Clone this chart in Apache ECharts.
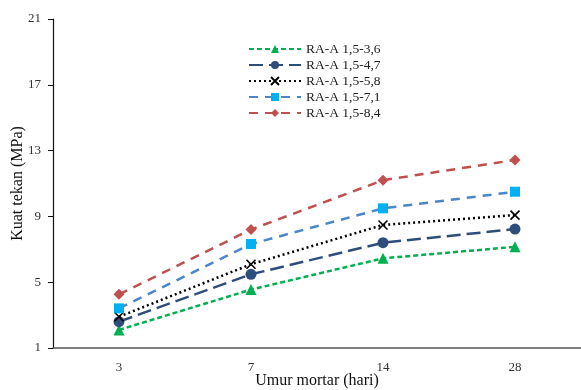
<!DOCTYPE html>
<html><head><meta charset="utf-8">
<script src="https://cdn.jsdelivr.net/npm/echarts@6/dist/echarts.min.js"></script>
<style>html,body{margin:0;padding:0;background:#fff}#c{width:581px;height:390px}</style>
</head><body><div id="c"></div>
<script>
const categories = ['3', '7', '14', '28'];
const seriesNames = ['RA-A 1,5-3,6', 'RA-A 1,5-4,7', 'RA-A 1,5-5,8', 'RA-A 1,5-7,1', 'RA-A 1,5-8,4'];
const s36 = [2.1, 4.55, 6.45, 7.15];
const s47 = [2.6, 5.48, 7.4, 8.23];
const s58 = [2.9, 6.09, 8.48, 9.08];
const s71 = [3.41, 7.32, 9.49, 10.5];
const s84 = [4.26, 8.2, 11.2, 12.43];
const yTicks = [1, 5, 9, 13, 17, 21];

const font = 'Liberation Serif, Times New Roman, serif';
const xPath = 'path://M0,0L10,10M10,0L0,10';
const defs = [
  {data: s36, color: '#00B050', line: '#00B050', dash: [5, 3], symbol: 'triangle', size: 11},
  {data: s47, color: '#2E4D7B', line: '#2E4D7B', dash: [14, 6], symbol: 'circle', size: 11},
  {data: s58, color: 'none', line: '#000000', dash: [2, 3], symbol: xPath, size: 9, border: '#000'},
  {data: s71, color: '#00B0F0', line: '#4A86C8', dash: [9, 7], symbol: 'rect', size: 10},
  {data: s84, color: '#C0504D', line: '#C0504D', dash: [9, 7], symbol: 'diamond', size: 11}
];
const series = defs.map((d, i) => ({
  name: seriesNames[i], type: 'line', data: d.data,
  symbol: d.symbol, symbolSize: d.size,
  lineStyle: {color: d.line, width: 2.5, type: d.dash},
  itemStyle: d.border ? {color: 'transparent', borderColor: d.border, borderWidth: 1.6} : {color: d.color, borderWidth: 0},
  emphasis: {disabled: true}, animation: false
}));
const chart = echarts.init(document.getElementById('c'));
chart.setOption({
  animation: false,
  grid: {left: 53, top: 19, right: 0, bottom: 42, containLabel: false, outerBoundsMode: 'none'},
  legend: {
    orient: 'vertical', left: 243, top: 37, itemWidth: 52, itemHeight: 10, itemGap: 2,
    textStyle: {fontFamily: font, fontSize: 13.5, color: '#222'},
    data: seriesNames
  },
  xAxis: {
    type: 'category', data: categories, boundaryGap: true,
    axisLine: {lineStyle: {color: '#555', width: 1.5}},
    axisTick: {alignWithLabel: true, length: 4, lineStyle: {color: '#555'}},
    axisLabel: {fontFamily: font, fontSize: 13, color: '#333', margin: 13},
    name: 'Umur mortar (hari)', nameLocation: 'middle', nameGap: 25, nameMoveOverlap: false,
    nameTextStyle: {fontFamily: font, fontSize: 16, color: '#111'}
  },
  yAxis: {
    type: 'value', min: yTicks[0], max: yTicks[yTicks.length - 1], interval: 4,
    splitLine: {show: false},
    axisLine: {show: true, lineStyle: {color: '#111', width: 1.2}},
    axisTick: {show: true, inside: false, length: 5, lineStyle: {color: '#111'}},
    axisLabel: {fontFamily: font, fontSize: 13, color: '#333', margin: 12},
    name: 'Kuat tekan (MPa)', nameLocation: 'middle', nameGap: 27, nameRotate: 90, nameMoveOverlap: false,
    nameTextStyle: {fontFamily: font, fontSize: 16, color: '#111'}
  },
  series: series
});
</script></body></html>
